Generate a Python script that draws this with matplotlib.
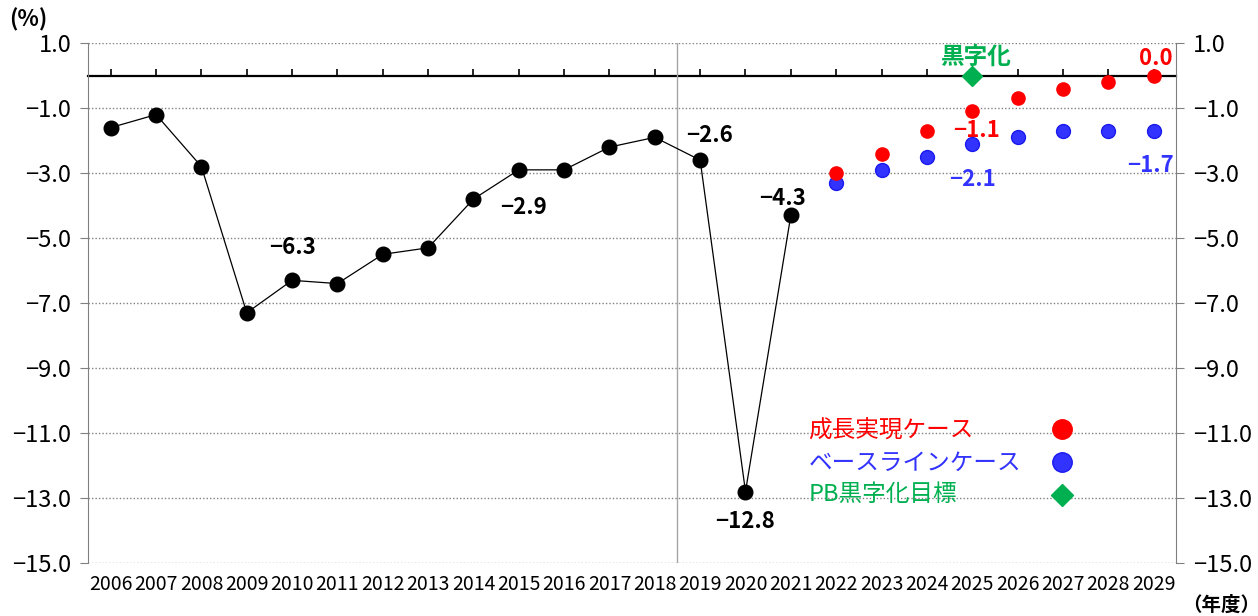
import numpy as np
import matplotlib.pyplot as plt
from matplotlib.lines import Line2D

plt.rcParams['font.family'] = ['Noto Sans CJK JP', 'DejaVu Sans']

years = list(range(2006, 2030))
actual_years = list(range(2006, 2022))
actual = [-1.6, -1.2, -2.8, -7.3, -6.3, -6.4, -5.5, -5.3, -3.8, -2.9,
          -2.9, -2.2, -1.9, -2.6, -12.8, -4.3]
proj_years = list(range(2022, 2030))
growth = [-3.0, -2.4, -1.7, -1.1, -0.7, -0.4, -0.2, 0.0]
baseline = [-3.3, -2.9, -2.5, -2.1, -1.9, -1.7, -1.7, -1.7]
target_year = 2025
target_val = 0.0
split_year = 2019

yticks = np.arange(1.0, -15.1, -2.0)
legend_labels = ['成長実現ケース', 'ベースラインケース', 'PB黒字化目標']

RED = '#FF0000'
BLUE = '#3333FF'
GREEN = '#00B050'

fig = plt.figure(figsize=(12.58, 6.16), dpi=100)
ax = fig.add_axes([0.070, 0.086, 0.865, 0.844])

xi = {y: i for i, y in enumerate(years)}
ax_x = [xi[y] for y in actual_years]
pr_x = [xi[y] for y in proj_years]

ax.plot(ax_x, actual, '-o', color='black', lw=0.9, ms=10.5, zorder=5)
ax.plot(pr_x, growth, 'o', color=RED, ms=9.5, zorder=5)
ax.plot(pr_x, baseline, 'o', color=BLUE, mec='#1a1aee', ms=10, zorder=4)
ax.plot([xi[target_year]], [target_val], 'D', color=GREEN, ms=10, zorder=6)

ax.set_xlim(-0.5, len(years) - 0.5)
ax.set_ylim(-15, 1)
ax.set_yticks(yticks)
ax.yaxis.set_major_formatter(plt.FuncFormatter(lambda v, p: ('%.1f' % v).replace('-', '\u2212')))
ax.set_xticks(range(len(years)))
ax.set_xticklabels([str(y) for y in years], fontsize=14)
ax.tick_params(axis='x', length=0, pad=8)
ax.tick_params(axis='y', labelsize=17, length=6, color='#808080', pad=6,
               labelright=True, right=True)
ax.grid(axis='y', ls=(0, (1, 1.5)), color='#808080', lw=1)
for s in ['top', 'bottom']:
    ax.spines[s].set_visible(False)
for s in ['left', 'right']:
    ax.spines[s].set_color('#808080')

ax.axvline(xi[split_year] - 0.5, color='#A6A6A6', lw=1)

# zero line with upward ticks at category centres
zero_pos = (0 - ax.get_ylim()[0]) / (ax.get_ylim()[1] - ax.get_ylim()[0])
sec = ax.secondary_xaxis(zero_pos)
sec.set_alignment('bottom')
sec.set_xticks(range(len(years)), labels=[''] * len(years))
sec.tick_params(direction='in', length=5, width=1.2, color='black')
sec.spines['bottom'].set_linewidth(1.6)
sec.spines['bottom'].set_color('black')

# data labels
lab = dict(fontsize=16, fontweight='bold', ha='center', va='center',
           textcoords='offset pixels')
ax.annotate('\u22126.3', (xi[2010], actual[4]), xytext=(0, 33), color='black', **lab)
ax.annotate('\u22122.9', (xi[2015], actual[9]), xytext=(5, -38), color='black', **lab)
ax.annotate('\u22122.6', (xi[2019], actual[13]), xytext=(9, 25), color='black', **lab)
ax.annotate('\u221212.8', (xi[2020], actual[14]), xytext=(0, -30), color='black', **lab)
ax.annotate('\u22124.3', (xi[2021], actual[15]), xytext=(-8, 17), color='black', **lab)
ax.annotate('\u22121.1', (xi[2025], growth[3]), xytext=(4, -19), color=RED, **lab)
ax.annotate('0.0', (xi[2029], growth[7]), xytext=(2, 17), color=RED, **lab)
ax.annotate('\u22122.1', (xi[2025], baseline[3]), xytext=(0, -36), color=BLUE, **lab)
ax.annotate('\u22121.7', (xi[2029], baseline[7]), xytext=(-3, -35), color=BLUE, **lab)
ax.annotate('黒字化', (xi[target_year], target_val), xytext=(3, 19), color=GREEN,
            fontsize=17, fontweight='bold', ha='center', va='center',
            textcoords='offset pixels')

# legend: text on the left, markers on the right
handles = [Line2D([], [], marker='o', ls='none', color=RED, ms=14),
           Line2D([], [], marker='o', ls='none', color=BLUE, mec='#1a1aee', ms=14),
           Line2D([], [], marker='D', ls='none', color=GREEN, ms=11)]
leg = ax.legend(handles, ['', '', ''], loc='center', bbox_to_anchor=(0.895, 0.192),
                frameon=False, handlelength=1, handletextpad=0, labelspacing=0.6,
                fontsize=14, borderpad=0)
for (txt, col), yy in zip(zip(legend_labels, [RED, BLUE, GREEN]), [0.254, 0.192, 0.131]):
    ax.text(0.662, yy, txt, color=col, fontsize=17, va='center',
            ha='left', transform=ax.transAxes)

fig.text(0.007, 0.968, '(%)', fontsize=16, fontweight='bold', va='center')
fig.text(0.940, 0.018, '（年度）', fontsize=14, fontweight='bold', va='center')

fig.savefig('out.png', dpi=100)
